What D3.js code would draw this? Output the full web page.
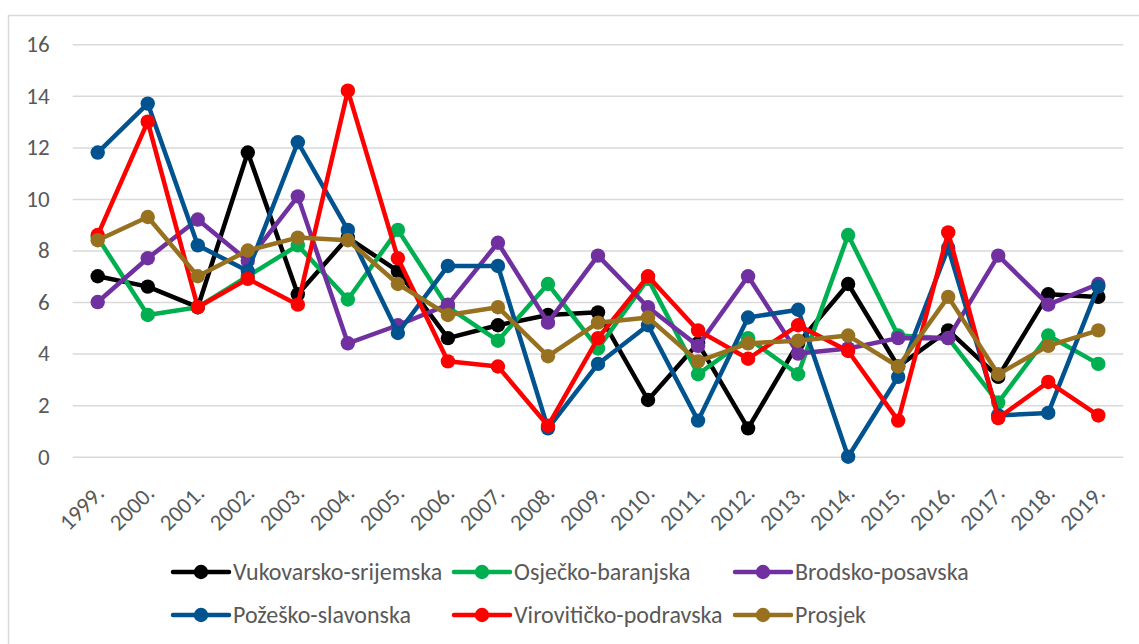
<!DOCTYPE html>
<html>
<head>
<meta charset="utf-8">
<script src="https://cdn.jsdelivr.net/npm/d3@7"></script>
<style>
  html, body { margin: 0; padding: 0; background: #fff; }
  svg { display: block; }
</style>
</head>
<body>
<svg id="chart"></svg>
<script>
// years on the category axis
const years = ["1999.", "2000.", "2001.", "2002.", "2003.", "2004.", "2005.",
  "2006.", "2007.", "2008.", "2009.", "2010.", "2011.", "2012.", "2013.",
  "2014.", "2015.", "2016.", "2017.", "2018.", "2019."];

const yTicks = [0, 2, 4, 6, 8, 10, 12, 14, 16];

const seriesNames = ["Vukovarsko-srijemska", "Osječko-baranjska", "Brodsko-posavska",
  "Požeško-slavonska", "Virovitičko-podravska", "Prosjek"];

const vukovarsko = [7.0, 6.6, 5.8, 11.8, 6.3, 8.5, 7.2, 4.6, 5.1, 5.5, 5.6, 2.2, 4.4, 1.1, 4.4, 6.7, 3.5, 4.9, 3.1, 6.3, 6.2];
const osjecko = [8.5, 5.5, 5.8, 7.0, 8.2, 6.1, 8.8, 5.8, 4.5, 6.7, 4.2, 6.9, 3.2, 4.6, 3.2, 8.6, 4.7, 4.6, 2.1, 4.7, 3.6];
const brodsko = [6.0, 7.7, 9.2, 7.6, 10.1, 4.4, 5.1, 5.9, 8.3, 5.2, 7.8, 5.8, 4.3, 7.0, 4.0, 4.2, 4.6, 4.6, 7.8, 5.9, 6.7];
const pozesko = [11.8, 13.7, 8.2, 7.2, 12.2, 8.8, 4.8, 7.4, 7.4, 1.1, 3.6, 5.1, 1.4, 5.4, 5.7, 0.0, 3.1, 8.1, 1.6, 1.7, 6.6];
const viroviticko = [8.6, 13.0, 5.8, 6.9, 5.9, 14.2, 7.7, 3.7, 3.5, 1.2, 4.6, 7.0, 4.9, 3.8, 5.1, 4.1, 1.4, 8.7, 1.5, 2.9, 1.6];
const prosjek = [8.4, 9.3, 7.0, 8.0, 8.5, 8.4, 6.7, 5.5, 5.8, 3.9, 5.2, 5.4, 3.7, 4.4, 4.5, 4.7, 3.5, 6.2, 3.2, 4.3, 4.9];

const seriesValues = [vukovarsko, osjecko, brodsko, pozesko, viroviticko, prosjek];
const seriesColors = ["#000000", "#00b050", "#7030a0", "#00538f", "#ff0000", "#97711f"];

const cfg = {
  width: 1139,
  height: 644,
  plotLeft: 72.7,
  plotRight: 1123.3,
  plotTop: 44.3,
  plotBottom: 456.7,
  gridColor: "#d9d9d9",
  borderColor: "#d9d9d9",
  textColor: "#595959",
  font: "Carlito, Calibri, Lato, sans-serif",
  axisFontSize: 23,
  legendFontSize: 24,
  lineWidth: 4.5,
  markerR: 7.2,
  // legend
  legendCols: [173, 454, 735],
  legendRows: [572, 615],
  sampleLen: 56,
  textGap: 4,
};

const svg = d3.select("#chart")
  .attr("width", cfg.width)
  .attr("height", cfg.height)
  .attr("font-family", cfg.font);

// outer chart border (right and bottom edges fall outside the picture)
svg.append("rect")
  .attr("x", 8.5)
  .attr("y", 15.5)
  .attr("width", cfg.width + 10)
  .attr("height", cfg.height + 10)
  .attr("fill", "none")
  .attr("stroke", cfg.borderColor)
  .attr("stroke-width", 1.5);

const x = d3.scaleBand()
  .domain(years)
  .range([cfg.plotLeft, cfg.plotRight]);

const y = d3.scaleLinear()
  .domain([0, 16])
  .range([cfg.plotBottom, cfg.plotTop]);

// horizontal gridlines + value labels
const yAxis = d3.axisLeft(y)
  .tickValues(yTicks)
  .tickSize(-(cfg.plotRight - cfg.plotLeft))
  .tickPadding(23)
  .tickFormat(d3.format("d"));

const yG = svg.append("g")
  .attr("transform", `translate(${cfg.plotLeft},0)`)
  .call(yAxis);
yG.select(".domain").remove();
yG.selectAll(".tick line")
  .attr("stroke", cfg.gridColor)
  .attr("stroke-width", 1.5);
yG.selectAll(".tick text")
  .attr("fill", cfg.textColor)
  .attr("font-size", cfg.axisFontSize)
  .attr("font-family", cfg.font);

// category labels, rotated 45 degrees
const xAxis = d3.axisBottom(x).tickSize(0).tickPadding(0);
const xG = svg.append("g")
  .attr("transform", `translate(0,${cfg.plotBottom})`)
  .call(xAxis);
xG.select(".domain").remove();
xG.selectAll(".tick text")
  .attr("fill", cfg.textColor)
  .attr("font-size", cfg.axisFontSize)
  .attr("font-family", cfg.font)
  .attr("text-anchor", "end")
  .attr("dy", null)
  .attr("y", 0)
  .attr("transform", "translate(8,38) rotate(-45)");

// one group per series, drawn in legend order so Prosjek ends on top
const line = d3.line()
  .x((d, i) => x(years[i]) + x.bandwidth() / 2)
  .y((d) => y(d));

const seriesG = svg.append("g")
  .selectAll("g")
  .data(seriesValues)
  .join("g")
  .attr("fill", (d, i) => seriesColors[i])
  .attr("stroke", (d, i) => seriesColors[i]);

seriesG.append("path")
  .attr("d", (d) => line(d))
  .attr("fill", "none")
  .attr("stroke-width", cfg.lineWidth)
  .attr("stroke-linejoin", "round");

seriesG.selectAll("circle")
  .data((d) => d)
  .join("circle")
  .attr("cx", (d, i) => x(years[i]) + x.bandwidth() / 2)
  .attr("cy", (d) => y(d))
  .attr("r", cfg.markerR)
  .attr("stroke", "none");

// legend: 3 columns x 2 rows
const legendG = svg.append("g")
  .selectAll("g")
  .data(seriesNames)
  .join("g")
  .attr("transform", (d, i) =>
    `translate(${cfg.legendCols[i % 3]},${cfg.legendRows[Math.floor(i / 3)]})`);

legendG.append("line")
  .attr("x1", 0)
  .attr("x2", cfg.sampleLen)
  .attr("stroke", (d, i) => seriesColors[i])
  .attr("stroke-width", cfg.lineWidth)
  .attr("stroke-linecap", "round");

legendG.append("circle")
  .attr("cx", cfg.sampleLen / 2)
  .attr("r", cfg.markerR)
  .attr("fill", (d, i) => seriesColors[i]);

legendG.append("text")
  .attr("x", cfg.sampleLen + cfg.textGap)
  .attr("dy", "0.35em")
  .attr("fill", cfg.textColor)
  .attr("font-size", cfg.legendFontSize)
  .text((d) => d);
</script>
</body>
</html>
